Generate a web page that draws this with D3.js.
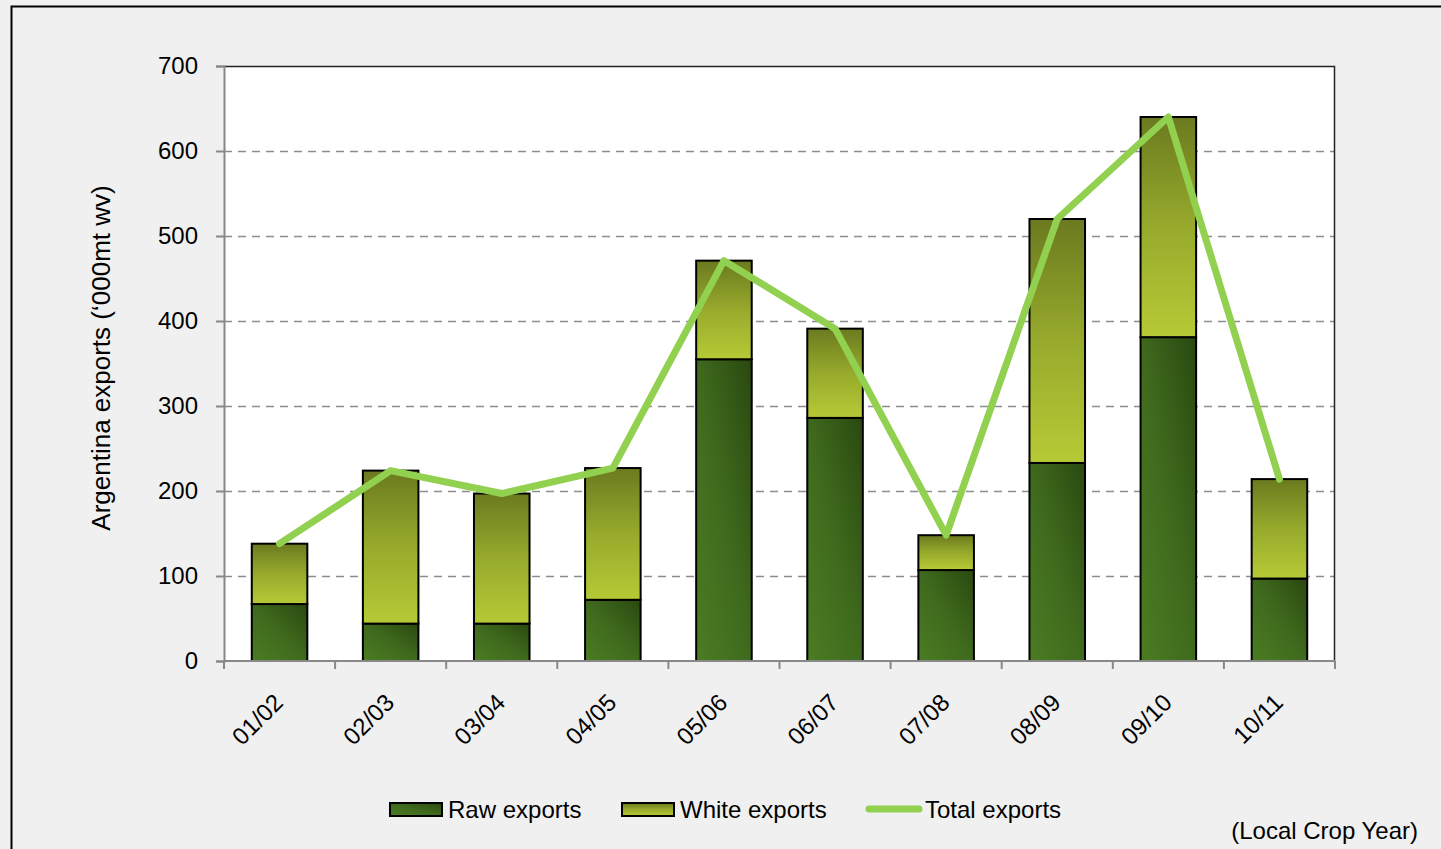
<!DOCTYPE html>
<html>
<head>
<meta charset="utf-8">
<script src="https://cdn.jsdelivr.net/npm/d3@7/dist/d3.min.js"></script>
<style>
  html, body { margin: 0; padding: 0; background: #f0f0f0; }
  svg { display: block; font-family: "Liberation Sans", Arial, sans-serif; }
</style>
</head>
<body>
<svg id="chart" width="1441" height="849"></svg>
<script>
// Argentina sugar exports by local crop year ('000 mt wv)
const cropYears = ["01/02", "02/03", "03/04", "04/05", "05/06", "06/07", "07/08", "08/09", "09/10", "10/11"];
const rawExports = [67, 44, 44, 72, 355, 286, 107, 233, 381, 97];
const whiteExports = [71, 180, 153, 155, 116, 105, 41, 287, 259, 117];
const totalExports = rawExports.map((r, i) => r + whiteExports[i]);
const yTicks = [0, 100, 200, 300, 400, 500, 600, 700];

const svg = d3.select("#chart");
const W = 1441, H = 849;
const plot = { left: 224, top: 66, right: 1335, bottom: 661 };
const FONT = "Liberation Sans, Arial, sans-serif";

// Outer frame
svg.append("rect").attr("x", 11.5).attr("y", 6.5).attr("width", W + 20).attr("height", H + 20)
  .attr("fill", "#f0f0f0").attr("stroke", "#000").attr("stroke-width", 2);

// Gradients
const defs = svg.append("defs");
const gWhite = defs.append("linearGradient").attr("id", "gWhite")
  .attr("x1", 0).attr("y1", 0).attr("x2", 0).attr("y2", 1);
gWhite.append("stop").attr("offset", "0%").attr("stop-color", "#6b7a1f");
gWhite.append("stop").attr("offset", "50%").attr("stop-color", "#97aa2c");
gWhite.append("stop").attr("offset", "100%").attr("stop-color", "#b6ca36");
const gRaw = defs.append("linearGradient").attr("id", "gRaw")
  .attr("x1", 0).attr("y1", 1).attr("x2", 1).attr("y2", 0);
gRaw.append("stop").attr("offset", "0%").attr("stop-color", "#4b7c22");
gRaw.append("stop").attr("offset", "50%").attr("stop-color", "#3f6a1d");
gRaw.append("stop").attr("offset", "100%").attr("stop-color", "#2a4810");

const x = d3.scaleBand().domain(cropYears).range([plot.left, plot.right]).paddingInner(0.5).paddingOuter(0.25);
const y = d3.scaleLinear().domain([0, 700]).range([plot.bottom, plot.top]);

// Plot background
svg.append("rect").attr("x", plot.left).attr("y", plot.top)
  .attr("width", plot.right - plot.left).attr("height", plot.bottom - plot.top)
  .attr("fill", "#fff");

// Gridlines
svg.append("g").selectAll("line").data(yTicks.filter(t => t > 0 && t < 700)).join("line")
  .attr("x1", plot.left).attr("x2", plot.right)
  .attr("y1", d => Math.round(y(d)) + 0.5).attr("y2", d => Math.round(y(d)) + 0.5)
  .attr("stroke", "#8c8c8c").attr("stroke-width", 1.5).attr("stroke-dasharray", "8,6");

// Top and right frame of plot area
svg.append("path")
  .attr("d", `M${plot.left},${plot.top + 0.5}H${plot.right - 0.5}V${plot.bottom}`)
  .attr("fill", "none").attr("stroke", "#222").attr("stroke-width", 1.5);

// Stacked bars
const bars = svg.append("g");
bars.selectAll("rect.raw").data(cropYears).join("rect").attr("class", "raw")
  .attr("x", d => x(d)).attr("width", x.bandwidth())
  .attr("y", (d, i) => y(rawExports[i]))
  .attr("height", (d, i) => y(0) - y(rawExports[i]))
  .attr("fill", "url(#gRaw)").attr("stroke", "#000").attr("stroke-width", 2);
bars.selectAll("rect.white").data(cropYears).join("rect").attr("class", "white")
  .attr("x", d => x(d)).attr("width", x.bandwidth())
  .attr("y", (d, i) => y(totalExports[i]))
  .attr("height", (d, i) => y(rawExports[i]) - y(totalExports[i]))
  .attr("fill", "url(#gWhite)").attr("stroke", "#000").attr("stroke-width", 2);

// Axes
const yAxis = svg.append("g").attr("transform", `translate(${plot.left},0)`)
  .call(d3.axisLeft(y).tickValues(yTicks).tickSize(8).tickPadding(18));
yAxis.select(".domain").attr("stroke", "#888").attr("stroke-width", 2);
yAxis.selectAll(".tick line").attr("stroke", "#888").attr("stroke-width", 2);
yAxis.selectAll(".tick text").attr("font-size", 24).attr("fill", "#000").attr("font-family", FONT);

const edges = d3.range(cropYears.length + 1).map(i => plot.left + i * (plot.right - plot.left) / cropYears.length);
const xAxisG = svg.append("g");
xAxisG.append("line").attr("x1", plot.left).attr("x2", plot.right)
  .attr("y1", plot.bottom).attr("y2", plot.bottom).attr("stroke", "#888").attr("stroke-width", 2);
xAxisG.selectAll("line.tk").data(edges).join("line").attr("class", "tk")
  .attr("x1", d => d).attr("x2", d => d).attr("y1", plot.bottom).attr("y2", plot.bottom + 8)
  .attr("stroke", "#888").attr("stroke-width", 2);
xAxisG.selectAll("text").data(cropYears).join("text")
  .attr("transform", d => `translate(${x(d) + x.bandwidth() / 2 + 5},${plot.bottom + 43}) rotate(-45)`)
  .attr("text-anchor", "end").attr("font-family", FONT)
  .attr("font-size", 24).attr("fill", "#000").text(d => d);

// Total line
const line = d3.line().x((d, i) => x(cropYears[i]) + x.bandwidth() / 2).y(d => y(d));
svg.append("path").datum(totalExports).attr("d", line)
  .attr("fill", "none").attr("stroke", "#92d050").attr("stroke-width", 7)
  .attr("stroke-linejoin", "round").attr("stroke-linecap", "round");

// Axis titles
svg.append("text").attr("transform", "translate(110,358) rotate(-90)")
  .attr("text-anchor", "middle").attr("font-size", 26).attr("fill", "#000").attr("font-family", FONT)
  .text("Argentina exports (\u2018000mt wv)");
svg.append("text").attr("x", 1418).attr("y", 839).attr("text-anchor", "end").attr("font-family", FONT)
  .attr("font-size", 24).attr("fill", "#000").text("(Local Crop Year)");

// Legend
const legend = svg.append("g");
const legendItems = [
  { label: "Raw exports", kind: "raw", x: 390 },
  { label: "White exports", kind: "white", x: 622 },
  { label: "Total exports", kind: "line", x: 866 }
];
legendItems.forEach(it => {
  if (it.kind === "line") {
    legend.append("line").attr("x1", it.x + 3).attr("x2", it.x + 53).attr("y1", 809).attr("y2", 809)
      .attr("stroke", "#92d050").attr("stroke-width", 7).attr("stroke-linecap", "round");
  } else {
    legend.append("rect").attr("x", it.x).attr("y", 803).attr("width", 52).attr("height", 13)
      .attr("fill", it.kind === "raw" ? "url(#gRaw)" : "url(#gWhite)")
      .attr("stroke", "#000").attr("stroke-width", 2);
  }
  legend.append("text").attr("x", it.x + (it.kind === "line" ? 59 : 58)).attr("y", 818).attr("font-size", 24)
    .attr("font-family", FONT).attr("fill", "#000").text(it.label);
});
</script>
</body>
</html>
